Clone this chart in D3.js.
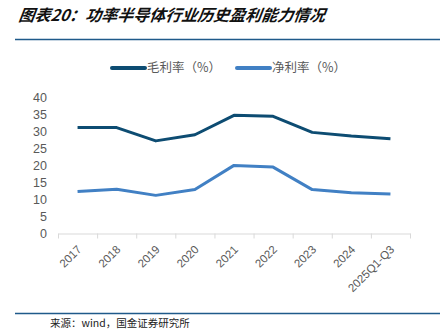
<!DOCTYPE html>
<html><head><meta charset="utf-8">
<script src="https://cdn.jsdelivr.net/npm/d3@7"></script>
<style>body{margin:0;background:#fff}svg{display:block}</style>
</head><body>
<script>
const categories = ["2017","2018","2019","2020","2021","2022","2023","2024","2025Q1-Q3"];
const grossMargin = [31.1,31.1,27.2,29.0,34.7,34.4,29.7,28.6,27.8];
const netMargin = [12.3,13.0,11.2,12.9,20.0,19.5,12.9,12.0,11.6];
const yTicks = [0,5,10,15,20,25,30,35,40];
const seriesNames = ["毛利率（%）","净利率（%）"];
const colors = ["#0d4c72","#4180c4"];

const W=448,H=331;
const svg=d3.select("body").append("svg").attr("width",W).attr("height",H);
const font="'Noto Sans CJK SC','Noto Sans',sans-serif";

svg.append("text").attr("x",18).attr("y",21).attr("font-family",font)
  .attr("font-size",16).attr("font-weight","bold").attr("font-style","italic")
  .attr("transform","skewX(-8) translate(3,0)")
  .attr("fill","#111").text("图表20：功率半导体行业历史盈利能力情况");
svg.append("line").attr("x1",15).attr("x2",440).attr("y1",39.5).attr("y2",39.5)
  .attr("stroke","#1f5a8a").attr("stroke-width",1.5);
svg.append("line").attr("x1",15).attr("x2",440).attr("y1",313.5).attr("y2",313.5)
  .attr("stroke","#1f5a8a").attr("stroke-width",1.5);
svg.append("text").attr("x",50).attr("y",327).attr("font-family",font)
  .attr("font-size",10.5).attr("fill","#222").text("来源：wind，国金证券研究所");

const x=d3.scaleBand().domain(categories).range([58,410]);
const y=d3.scaleLinear().domain([0,40]).range([233.5,97.3]);

// y labels
svg.append("g").selectAll("text").data(yTicks).join("text")
  .attr("x",47).attr("y",d=>y(d)).attr("dy","0.35em").attr("text-anchor","end")
  .attr("font-family","'Liberation Sans',Arial,sans-serif").attr("font-size",12.5)
  .attr("fill","#595959").text(d=>d);

// x axis
const xa=svg.append("g").attr("transform",`translate(0,${y(0)})`)
  .call(d3.axisBottom(x).tickSize(0).tickFormat(""));
xa.select(".domain").attr("stroke","#d9d9d9");
const bounds=categories.map(c=>x(c)).concat([x.range()[1]]);
svg.append("g").selectAll("line").data(bounds).join("line")
  .attr("x1",d=>d+0.5).attr("x2",d=>d+0.5).attr("y1",y(0)).attr("y2",y(0)+5)
  .attr("stroke","#d9d9d9");
svg.append("g").selectAll("text").data(categories).join("text")
  .attr("transform",d=>`translate(${x(d)+x.bandwidth()/2-1},${y(0)+11}) rotate(-45)`)
  .attr("text-anchor","end").attr("dy","0.7em")
  .attr("font-family","'Liberation Sans',Arial,sans-serif").attr("font-size",11.5)
  .attr("fill","#595959").text(d=>d);

const line=d3.line().x((d,i)=>x(categories[i])+x.bandwidth()/2).y(d=>y(d));
[grossMargin,netMargin].forEach((s,i)=>{
  svg.append("path").datum(s).attr("d",line).attr("fill","none")
    .attr("stroke",colors[i]).attr("stroke-width",3).attr("stroke-linejoin","round");
});

// legend
const lx=[112,237];
seriesNames.forEach((n,i)=>{
  svg.append("line").attr("x1",lx[i]).attr("x2",lx[i]+33).attr("y1",68).attr("y2",68)
    .attr("stroke",colors[i]).attr("stroke-width",4).attr("stroke-linecap","round");
  svg.append("text").attr("x",lx[i]+35).attr("y",68).attr("dy","0.35em")
    .attr("font-family",font).attr("font-size",12.5).attr("fill","#595959").text(n);
});
</script>
</body></html>
